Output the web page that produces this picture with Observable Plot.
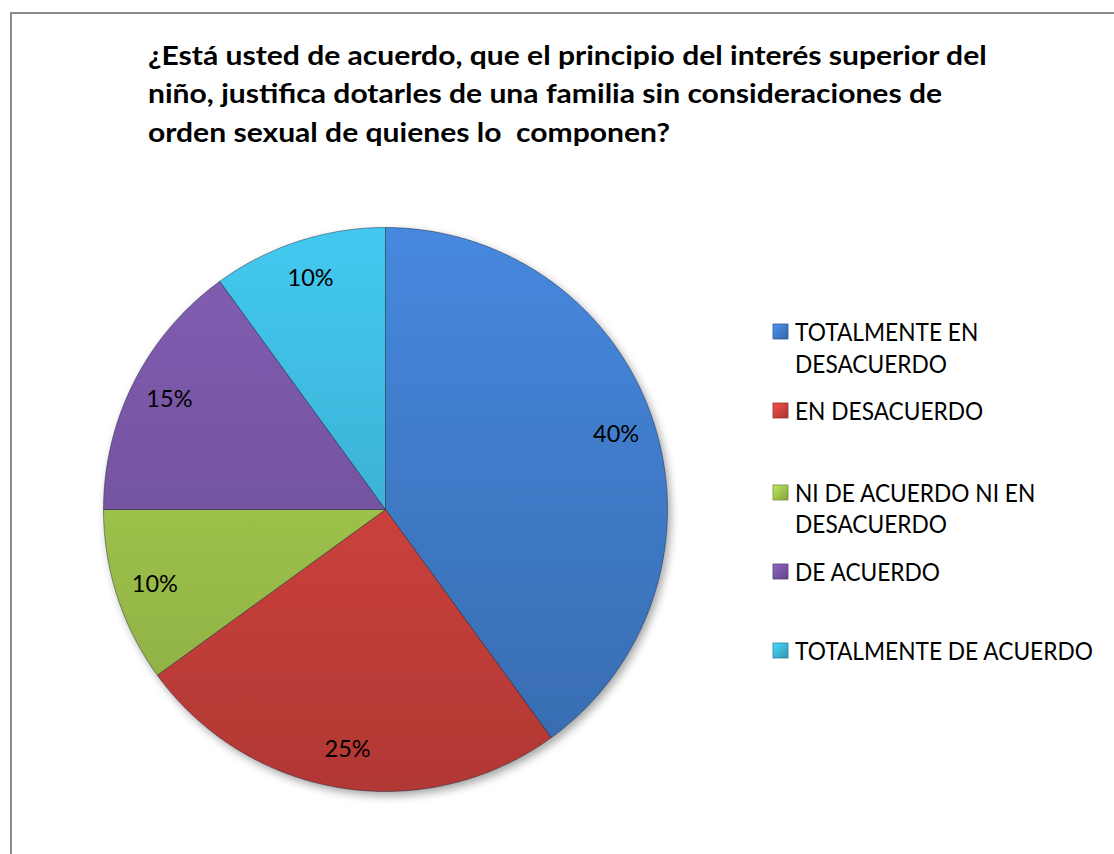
<!DOCTYPE html>
<html><head><meta charset="utf-8">
<script src="https://cdn.jsdelivr.net/npm/d3@7"></script>
<script src="https://cdn.jsdelivr.net/npm/@observablehq/plot@0.6"></script>
<style>
html,body{margin:0;padding:0;background:#fff;width:1114px;height:854px;overflow:hidden;}
#frame{position:absolute;left:10px;top:12px;width:1200px;height:900px;border-top:2px solid #8c8c8c;border-left:2px solid #8c8c8c;box-sizing:border-box;}
#chart{position:absolute;left:0;top:0;}
#overlay{position:absolute;left:0;top:0;}
</style>
</head><body>
<div id="frame"></div>
<div id="chart"></div>
<svg id="overlay" width="1114" height="854"></svg>
<script>
// ---- data ----
const categories = ["TOTALMENTE EN DESACUERDO","EN DESACUERDO","NI DE ACUERDO NI EN DESACUERDO","DE ACUERDO","TOTALMENTE DE ACUERDO"];
const values = [40, 25, 10, 15, 10];
const percentLabels = ["40%","25%","10%","15%","10%"];
const titleLines = ["¿Está usted de acuerdo, que el principio del interés superior del","niño, justifica dotarles de una familia sin consideraciones de","orden sexual de quienes lo  componen?"];
const legendLines = [["TOTALMENTE EN","DESACUERDO"],["EN DESACUERDO"],["NI DE ACUERDO NI EN","DESACUERDO"],["DE ACUERDO"],["TOTALMENTE DE ACUERDO"]];

// ---- style / layout ----
const baseColors = ["#3e78c4","#c8403b","#9bbf4a","#74539f","#3bb1d4"];
const W = 1114, H = 854, cx = 385, cy = 509, R = 282;
const FONT = "Lato, 'Open Sans', 'DejaVu Sans', sans-serif";

const table = categories.map((c, i) => ({cat: c, value: values[i], label: percentLabels[i]}));
const arcs = d3.pie().sort(null).value(d => d.value)(table);

const pts = [];
arcs.forEach(a => {
  const c = a.data.cat;
  pts.push({cat: c, x: 0, y: 0});
  const n = Math.max(2, Math.ceil((a.endAngle - a.startAngle) / (Math.PI / 360)));
  for (let k = 0; k <= n; k++) {
    const t = a.startAngle + (a.endAngle - a.startAngle) * k / n;
    pts.push({cat: c, x: Math.sin(t), y: Math.cos(t)});
  }
  pts.push({cat: c, x: 0, y: 0});
});
const labelPts = arcs.map(a => {
  const m = (a.startAngle + a.endAngle) / 2;
  return {text: a.data.label, x: 0.86 * Math.sin(m), y: 0.86 * Math.cos(m)};
});

const gradIds = categories.map((c, i) => "g" + i);

const chart = Plot.plot({
  width: W, height: H, margin: 0,
  style: {background: "transparent", overflow: "visible"},
  x: {domain: [-cx / R, (W - cx) / R], range: [0, W], axis: null},
  y: {domain: [-(H - cy) / R, cy / R], range: [H, 0], axis: null},
  color: {domain: categories, range: gradIds.map(id => `url(#${id})`)},
  marks: [
    Plot.line(pts, {x: "x", y: "y", z: "cat", fill: "cat", stroke: "rgba(20,30,50,0.45)", strokeWidth: 1, className: "slices"}),
    Plot.text(labelPts, {x: "x", y: "y", text: "text", fontSize: 23.5, fill: "#000", fontFamily: FONT, textAnchor: "middle", lineAnchor: "middle"})
  ]
});
document.getElementById("chart").appendChild(chart);

// gradients + shadow
const svgSel = d3.select(chart.tagName.toLowerCase() === "svg" ? chart : chart.querySelector("svg"));
const defs = svgSel.insert("defs", ":first-child");
const ys = chart.scale("y");
const yTop = ys.apply(1), yBot = ys.apply(-1);
baseColors.forEach((col, i) => {
  const g = defs.append("linearGradient").attr("id", gradIds[i])
    .attr("gradientUnits", "userSpaceOnUse").attr("x1", 0).attr("x2", 0).attr("y1", yTop).attr("y2", yBot);
  g.append("stop").attr("offset", "0%").attr("stop-color", d3.rgb(col).brighter(0.35));
  g.append("stop").attr("offset", "100%").attr("stop-color", d3.rgb(col).darker(0.35));
});
const f = defs.append("filter").attr("id", "shadow").attr("x", "-10%").attr("y", "-10%").attr("width", "130%").attr("height", "130%");
f.append("feDropShadow").attr("dx", 3).attr("dy", 4).attr("stdDeviation", 4).attr("flood-color", "#000").attr("flood-opacity", 0.35);
svgSel.select(".slices").attr("filter", "url(#shadow)");

// ---- overlay: title + legend ----
const ov = d3.select("#overlay");
const odefs = ov.append("defs");
baseColors.forEach((col, i) => {
  const g = odefs.append("linearGradient").attr("id", "s" + i).attr("x1", 0).attr("y1", 0).attr("x2", 1).attr("y2", 1);
  g.append("stop").attr("offset", "0%").attr("stop-color", d3.rgb(col).brighter(0.6));
  g.append("stop").attr("offset", "100%").attr("stop-color", d3.rgb(col).darker(0.5));
});
const tg = ov.append("g");
const tlines = tg.selectAll("text").data(titleLines).join("text")
  .attr("x", 0).attr("y", (d, i) => i * 38.5)
  .attr("font-family", FONT).attr("font-weight", "bold").attr("font-size", 26).attr("fill", "#000")
  .attr("xml:space", "preserve").style("white-space", "pre")
  .text(d => d);
const w1 = tlines.node().getComputedTextLength();
tg.attr("transform", `translate(148,65) scale(${839 / w1},1)`);

const lg = ov.append("g");
const baselines = [[341, 373], [420], [502, 533], [581], [660]];
const ltext = lg.append("g");
legendLines.forEach((lines, i) => {
  lines.forEach((ln, j) => {
    ltext.append("text").attr("x", 0).attr("y", baselines[i][j])
      .attr("font-family", FONT).attr("font-size", 25).attr("fill", "#000").text(ln);
  });
  lg.append("rect").attr("x", 773).attr("y", baselines[i][0] - 17).attr("width", 15).attr("height", 15)
    .attr("fill", `url(#s${i})`).attr("stroke", d3.rgb(baseColors[i]).darker(0.8)).attr("stroke-width", 0.8);
});
let ref = null;
ltext.selectAll("text").each(function() { if (this.textContent === "TOTALMENTE DE ACUERDO") ref = this; });
const lw = ref.getComputedTextLength();
ltext.attr("transform", `translate(795,0) scale(${298 / lw},1)`);
</script>
</body></html>
